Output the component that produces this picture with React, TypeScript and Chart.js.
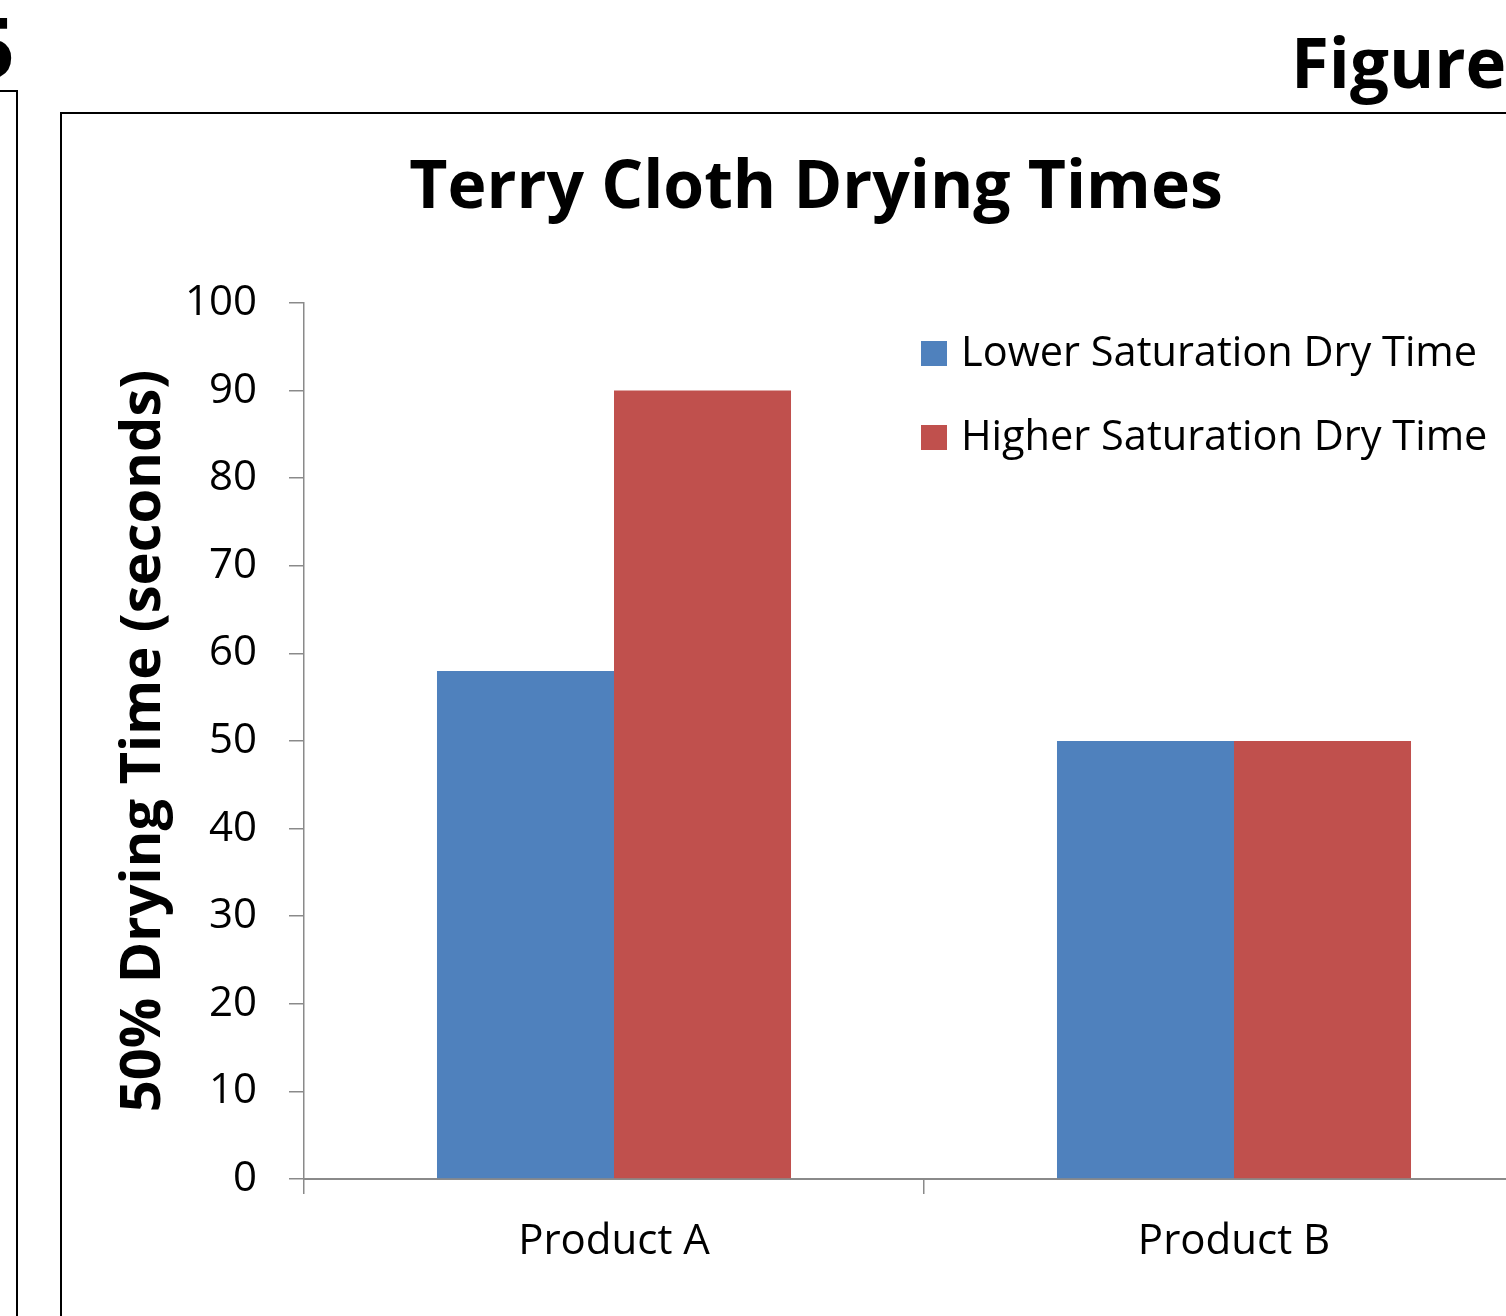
import React, { useEffect, useRef } from "react";
import { Chart, registerables } from "chart.js";

Chart.register(...registerables);

const categories = ["Product A", "Product B"];
const lowerSaturation = [58, 50];
const higherSaturation = [90, 50];
const seriesLabels = ["Lower Saturation Dry Time", "Higher Saturation Dry Time"];
const seriesColors = ["#4F81BD", "#C0504D"];
const chartTitle = "Terry Cloth Drying Times";
const yTitle = "50% Drying Time (seconds)";

const FONT = "'Open Sans', 'Noto Sans', sans-serif";
const W = 1508;
const H = 1250;

const legendPlugin = {
  id: "customLegend",
  afterDraw(chart: any) {
    const ctx = chart.ctx;
    ctx.save();
    ctx.font = `41.5px ${FONT}`;
    ctx.textBaseline = "middle";
    ctx.textAlign = "left";
    chart.data.datasets.forEach((ds: any, i: number) => {
      const cy = 239.5 + i * 84;
      ctx.fillStyle = ds.backgroundColor;
      ctx.fillRect(859, cy - 12.5, 26, 25);
      ctx.fillStyle = "#000";
      ctx.fillText(ds.label, 899, cy + 1);
    });
    ctx.restore();
  },
};

export default function App() {
  const ref = useRef<HTMLCanvasElement>(null);
  useEffect(() => {
    if (!ref.current) return;
    const chart = new Chart(ref.current, {
      type: "bar",
      data: {
        labels: categories,
        datasets: [
          { label: seriesLabels[0], data: lowerSaturation, backgroundColor: seriesColors[0] },
          { label: seriesLabels[1], data: higherSaturation, backgroundColor: seriesColors[1] },
        ],
      },
      plugins: [legendPlugin],
      options: {
        responsive: false,
        animation: false,
        devicePixelRatio: 1,
        layout: { padding: { top: 0, right: 26, bottom: 0, left: 26 } },
        datasets: { bar: { categoryPercentage: 0.571, barPercentage: 1.0 } },
        plugins: {
          legend: { display: false },
          tooltip: { enabled: false },
          title: {
            display: true,
            text: chartTitle,
            color: "#000",
            font: { family: FONT, size: 66, weight: "bold", lineHeight: 1.2 },
            padding: { top: 35.5, bottom: 74.3 },
          },
        },
        scales: {
          x: {
            grid: { drawOnChartArea: false, drawTicks: true, tickLength: 15, color: "#8a8a8a", lineWidth: 1.5, offset: true },
            border: { display: true, color: "#8a8a8a", width: 2 },
            ticks: { color: "#000", font: { family: FONT, size: 42 }, padding: 23 },
            afterFit: (s: any) => { s.height = H - 1065; },
          },
          y: {
            min: 0,
            max: 100,
            ticks: { stepSize: 10, color: "#000", font: { family: FONT, size: 42 }, padding: 32 },
            grid: { drawOnChartArea: false, drawTicks: true, tickLength: 15, color: "#8a8a8a", lineWidth: 1.5 },
            border: { display: true, color: "#8a8a8a", width: 1.5 },
            title: {
              display: true,
              text: yTitle,
              color: "#000",
              font: { family: FONT, size: 56, weight: "bold", lineHeight: 1.2 },
              padding: { top: 22.8, bottom: 0 },
            },
            afterFit: (s: any) => { s.width = 216; },
          },
        },
      },
    } as any);
    return () => chart.destroy();
  }, []);

  return (
    <div style={{ position: "fixed", left: 0, top: 0, width: 1506, height: 1316, overflow: "hidden", background: "#fff" }}>
      <div style={{ position: "absolute", right: 1491, top: -4, fontFamily: FONT, fontWeight: 700, fontSize: 84, lineHeight: "100px", color: "#000" }}>5</div>
      <div style={{ position: "absolute", left: -10, top: 90, width: 24, height: 1400, border: "2px solid #000" }} />
      <div style={{ position: "absolute", left: 1291, top: 6, fontFamily: FONT, fontWeight: 700, fontSize: 69, lineHeight: "110px", color: "#000", whiteSpace: "nowrap" }}>Figure</div>
      <div style={{ position: "absolute", left: 60, top: 112, width: W, height: H, border: "2px solid #000", background: "#fff" }}>
        <canvas ref={ref} width={W} height={H} style={{ display: "block", width: W, height: H }} />
      </div>
    </div>
  );
}
